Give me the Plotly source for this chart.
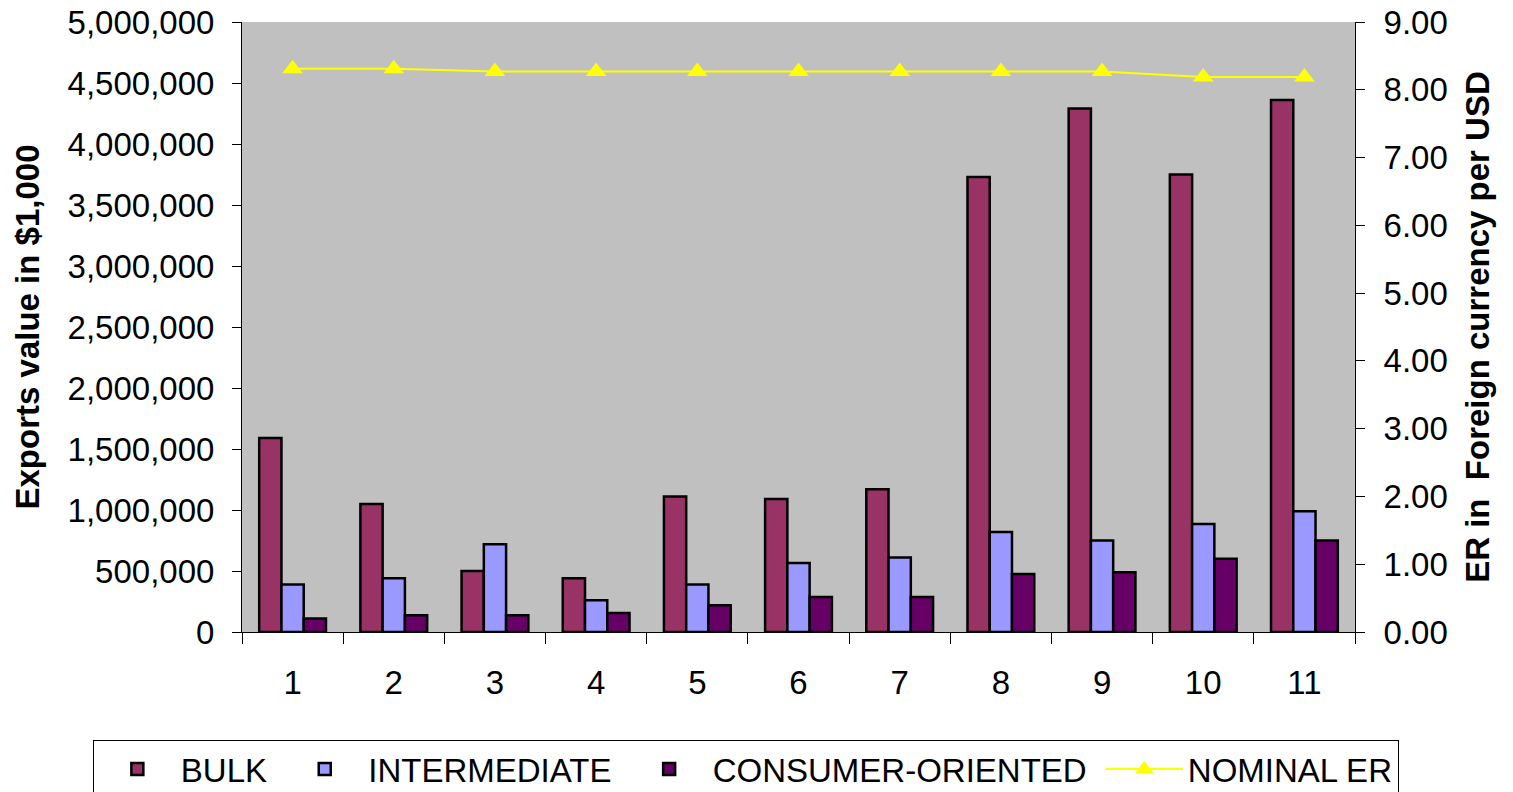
import plotly.graph_objects as go

years = [1, 2, 3, 4, 5, 6, 7, 8, 9, 10, 11]
bulk = [1590000, 1050000, 500000, 440000, 1110000, 1090000, 1170000, 3730000, 4290000, 3750000, 4360000]
intermediate = [390000, 440000, 720000, 260000, 390000, 566000, 610000, 820000, 750000, 885000, 990000]
consumer = [110000, 137000, 137000, 156000, 220000, 287000, 287000, 475000, 490000, 600000, 750000]
nominal_er = [8.31, 8.31, 8.27, 8.27, 8.27, 8.27, 8.27, 8.27, 8.27, 8.19, 8.19]

FONT = "Liberation Sans, Arial, sans-serif"
FS = 33
PAD = "\u00a0"

fig = go.Figure()
fig.add_trace(go.Bar(x=years, y=bulk, name="BULK" + PAD,
                     marker=dict(color="#993366", line=dict(color="black", width=2.5))))
fig.add_trace(go.Bar(x=years, y=intermediate, name="INTERMEDIATE" + PAD,
                     marker=dict(color="#9999FF", line=dict(color="black", width=2.5))))
fig.add_trace(go.Bar(x=years, y=consumer, name="CONSUMER-ORIENTED" + PAD,
                     marker=dict(color="#660066", line=dict(color="black", width=2.5))))
fig.add_trace(go.Scatter(x=years, y=nominal_er, name="NOMINAL ER", yaxis="y2",
                         mode="lines+markers",
                         line=dict(color="#FFFF00", width=2),
                         marker=dict(symbol="triangle-up", size=18, color="#FFFF00")))

fig.update_layout(
    width=1513, height=792,
    margin=dict(l=242, r=158, t=22, b=160, autoexpand=False),
    paper_bgcolor="white",
    plot_bgcolor="#C0C0C0",
    font=dict(family=FONT, size=FS, color="black"),
    barmode="group",
    bargap=0.34,
    bargroupgap=0,
    xaxis=dict(
        range=[0.5, 11.5], automargin=False,
        tickmode="array", tickvals=years, ticktext=[str(v) for v in years],
        ticks="", showgrid=False, zeroline=False,
        showline=True, linecolor="black", linewidth=1,
        ticklabelstandoff=21,
        tickfont=dict(size=FS),
        minor=dict(tickmode="array", tickvals=[v - 0.5 for v in years] + [11.5],
                   ticks="outside", ticklen=11, tickcolor="black", tickwidth=1, showgrid=False),
    ),
    yaxis=dict(
        range=[0, 5000000], dtick=500000, tickformat=",", automargin=False,
        showgrid=False, zeroline=False,
        showline=True, linecolor="black", linewidth=1,
        ticks="outside", ticklen=9, tickcolor="black",
        ticklabelstandoff=11, ticklabeloverflow="allow",
        tickfont=dict(size=FS),
        title=dict(text="<b>Exports value in $1,000</b>", font=dict(size=FS), standoff=18),
    ),
    yaxis2=dict(
        range=[0, 9], dtick=1, tickformat=".2f", automargin=False,
        overlaying="y", side="right",
        showgrid=False, zeroline=False,
        showline=True, linecolor="black", linewidth=1,
        ticks="outside", ticklen=9, tickcolor="black",
        ticklabelstandoff=12, ticklabeloverflow="allow",
        tickfont=dict(size=FS),
        title=dict(text="<b>ER in\u00a0\u00a0Foreign currency per USD</b>", font=dict(size=FS), standoff=19),
    ),
    legend=dict(
        orientation="h",
        x=-0.134, xanchor="left",
        y=-0.177, yanchor="top",
        bgcolor="white", bordercolor="black", borderwidth=1,
        font=dict(size=FS),
        itemwidth=77,
    ),
    showlegend=True,
)

fig.write_html("out.html", config={"displayModeBar": False},
               post_script="document.body.style.margin='0';")
